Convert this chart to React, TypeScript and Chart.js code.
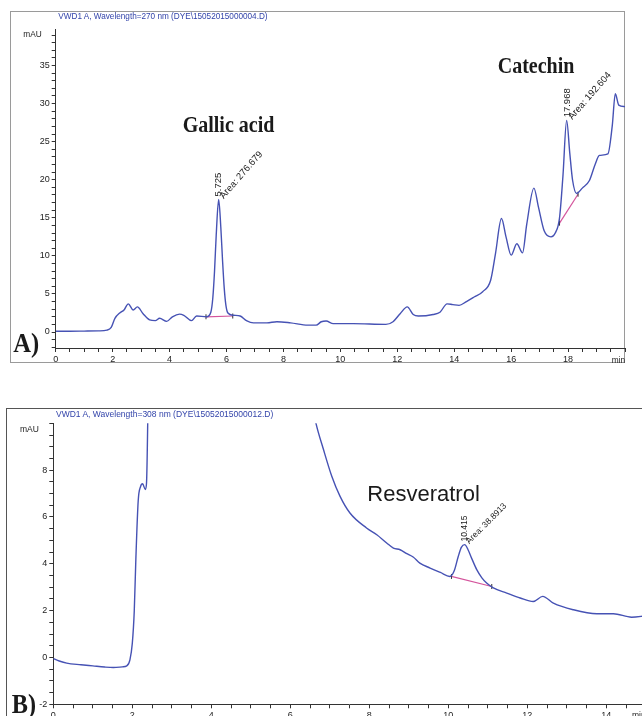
import React, { useEffect, useRef } from "react";
import { Chart, registerables } from "chart.js";
Chart.register(...registerables);

// ---------- Chromatogram A (270 nm) ----------
const timeA = [0, 0.5, 1.0, 1.5, 1.8, 1.95, 2.08, 2.25, 2.4, 2.55, 2.72, 2.87, 3.07, 3.3, 3.5, 3.65, 3.9, 4.1, 4.35, 4.5, 4.77, 4.95, 5.3, 5.45, 5.52, 5.58, 5.64, 5.725, 5.8, 5.86, 5.92, 5.98, 6.05, 6.24, 6.48, 6.7, 6.95, 7.42, 7.77, 8.25, 8.86, 9.15, 9.33, 9.5, 9.75, 10.45, 11.6, 11.85, 12.1, 12.35, 12.56, 12.74, 13.26, 13.5, 13.75, 13.95, 14.17, 14.43, 14.7, 15.0, 15.28, 15.45, 15.66, 15.82, 16.0, 16.2, 16.4, 16.55, 16.8, 16.96, 17.16, 17.4, 17.55, 17.7, 17.82, 17.95, 18.06, 18.16, 18.3, 18.5, 18.75, 18.95, 19.1, 19.4, 19.55, 19.66, 19.78, 20.0];
const absA = [0.1, 0.1, 0.12, 0.15, 0.25, 0.6, 1.8, 2.5, 2.9, 3.7, 2.9, 3.3, 2.4, 1.6, 1.5, 1.8, 1.4, 2.0, 2.35, 2.2, 1.5, 2.1, 2.0, 2.6, 4.5, 8.0, 12.8, 17.4, 13.8, 9.5, 5.8, 3.5, 2.5, 2.2, 2.1, 1.5, 1.2, 1.2, 1.35, 1.2, 0.9, 0.9, 1.35, 1.45, 1.1, 1.1, 1.0, 1.35, 2.4, 3.3, 2.3, 2.1, 2.3, 2.6, 3.7, 3.6, 3.5, 4.0, 4.6, 5.3, 6.8, 10.3, 14.9, 12.5, 10.1, 11.6, 10.4, 14.2, 18.9, 16.4, 13.3, 12.5, 13.0, 15.0, 20.5, 27.8, 23.5, 19.9, 18.2, 18.9, 19.9, 22.0, 23.2, 23.4, 27.0, 31.3, 29.8, 29.6];
const gallicBaseTimes = [5.28, 6.22];
const gallicBaseVals = [2.0, 2.1];
const catechinBaseTimes = [17.7, 18.35];
const catechinBaseVals = [14.3, 18.1];
const peakTimesA = [5.725, 17.968];
const peakApexA = [17.4, 27.8];
const peakAreasA = ["276.679", "192.604"];
const xRangeA = [0, 20];
const yRangeA = [-2.1, 39.8];

// ---------- Chromatogram B (308 nm) ----------
const timeB = [0, 0.15, 0.34, 0.7, 1.0, 1.3, 1.52, 1.75, 1.86, 1.94, 2.0, 2.05, 2.09, 2.15, 2.21, 2.26, 2.33, 2.36, 2.39, 2.43, 6.0, 6.35, 6.65, 6.84, 7.05, 7.26, 7.51, 7.93, 8.19, 8.44, 8.61, 8.78, 8.95, 9.11, 9.28, 9.54, 9.8, 10.04, 10.15, 10.25, 10.33, 10.415, 10.5, 10.6, 10.72, 10.85, 10.97, 11.14, 11.48, 11.82, 12.15, 12.39, 12.66, 13.16, 13.76, 14.18, 14.64, 15.0];
const absB = [-0.05, -0.15, -0.24, -0.31, -0.36, -0.41, -0.43, -0.40, -0.36, -0.1, 0.6, 2.0, 4.2, 6.7, 7.3, 7.42, 7.17, 7.45, 10.0, 16, 16, 12.5, 10.0, 8.88, 7.74, 6.88, 6.17, 5.53, 5.24, 4.89, 4.67, 4.6, 4.43, 4.29, 4.03, 3.82, 3.63, 3.46, 3.7, 4.3, 4.7, 4.82, 4.6, 4.2, 3.75, 3.4, 3.18, 2.97, 2.75, 2.54, 2.39, 2.61, 2.32, 2.04, 1.87, 1.87, 1.72, 1.78];
const resBaseTimes = [10.08, 11.1];
const resBaseVals = [3.46, 3.03];
const peakTimesB = [10.415];
const peakApexB = [4.82];
const peakAreasB = ["38.8913"];
const xRangeB = [0, 15];
const yRangeB = [-2, 10];

const LINE = "#4652b4";
const PINK = "#d4549c";
const SANS = '"Liberation Sans", Arial, sans-serif';
const SERIF = '"Liberation Serif", "Times New Roman", serif';

const pts = (xs: number[], ys: number[]) => xs.map((x, i) => ({ x, y: ys[i] }));
const near = (v: number, m: number) => Math.abs(v / m - Math.round(v / m)) < 1e-6;

const peakLabelPlugin = {
  id: "peakLabels",
  afterDatasetsDraw(chart: any, _args: any, opts: any) {
    const { ctx } = chart;
    const x = chart.scales.x;
    const y = chart.scales.y;
    opts.times.forEach((t: number, i: number) => {
      const px = x.getPixelForValue(t);
      const py = y.getPixelForValue(opts.apex[i]);
      ctx.save();
      ctx.fillStyle = "#222";
      ctx.font = `${opts.size}px ${SANS}`;
      ctx.textAlign = "left";
      ctx.textBaseline = "middle";
      ctx.translate(px, py - 3);
      ctx.rotate(-Math.PI / 2);
      ctx.fillText(t.toFixed(3), 0, 0);
      ctx.restore();
      ctx.save();
      ctx.fillStyle = "#222";
      ctx.font = `${opts.size}px ${SANS}`;
      ctx.textAlign = "left";
      ctx.textBaseline = "middle";
      ctx.translate(px + 3, py - 2);
      ctx.rotate(opts.angle);
      ctx.fillText("Area: " + opts.areas[i], 0, 0);
      ctx.restore();
    });
  },
};

function makeConfig(p: any): any {
  const baseSets = p.bases.map((b: any) => ({
    data: pts(b[0], b[1]),
    borderColor: PINK,
    borderWidth: 1.2,
    pointRadius: 2.5,
    pointStyle: "line",
    rotation: 90,
    pointBorderColor: "#333",
    pointBorderWidth: 1,
    fill: false,
  }));
  return {
    type: "line",
    data: {
      datasets: [
        {
          data: pts(p.xs, p.ys),
          borderColor: LINE,
          borderWidth: 1.4,
          pointRadius: 0,
          cubicInterpolationMode: "monotone",
          fill: false,
        },
        ...baseSets,
      ],
    },
    options: {
      responsive: false,
      animation: false,
      events: [],
      layout: { padding: { top: p.padTop, right: p.padRight, left: 0, bottom: 0 } },
      plugins: {
        legend: { display: false },
        tooltip: { enabled: false },
        peakLabels: { times: p.pt, apex: p.pa, areas: p.areas, size: p.lblSize, angle: p.angle },
      },
      scales: {
        x: {
          type: "linear",
          min: p.xr[0],
          max: p.xr[1],
          afterFit: (s: any) => { s.height = p.xH; },
          ticks: {
            stepSize: p.xMinor,
            includeBounds: false,
            autoSkip: false,
            maxRotation: 0,
            padding: 2,
            color: "#222",
            font: { family: SANS, size: 9 },
            callback: (v: number) => (near(v, p.xMajor) && v < p.xr[1] - 1e-6 ? String(v) : ""),
          },
          grid: { drawOnChartArea: false, drawTicks: true, tickLength: 4, tickColor: "#333", tickWidth: 1 },
          border: { display: true, color: "#333", width: 1 },
        },
        y: {
          type: "linear",
          min: p.yr[0],
          max: p.yr[1],
          afterFit: (s: any) => { s.width = p.yW; },
          ticks: {
            stepSize: p.yMinor,
            includeBounds: false,
            autoSkip: false,
            padding: 2,
            color: "#222",
            font: { family: SANS, size: 9 },
            callback: (v: number) => (near(v, p.yMajor) && v < p.yr[1] - 1e-6 ? String(v) : ""),
          },
          grid: { drawOnChartArea: false, drawTicks: true, tickLength: 4, tickColor: "#333", tickWidth: 1 },
          border: { display: true, color: "#333", width: 1 },
        },
      },
    },
    plugins: [peakLabelPlugin],
  };
}

function Label(props: { x: number; base: number; size: number; text: string; serif?: boolean; bold?: boolean; color?: string; sy?: number }) {
  const ratio = props.serif ? 0.8375 : 0.8465;
  const off = ratio * props.size;
  return (
    <div
      style={{
        position: "absolute",
        left: props.x,
        top: props.base - off,
        fontFamily: props.serif ? SERIF : SANS,
        fontWeight: props.bold ? 700 : 400,
        fontSize: props.size,
        lineHeight: 1,
        whiteSpace: "nowrap",
        color: props.color || "#1a1a1a",
        transform: `scaleY(${props.sy || 1})`,
        transformOrigin: `0 ${off}px`,
      }}
    >
      {props.text}
    </div>
  );
}

export default function App() {
  const refA = useRef<HTMLCanvasElement>(null);
  const refB = useRef<HTMLCanvasElement>(null);

  useEffect(() => {
    const a = new Chart(
      refA.current as HTMLCanvasElement,
      makeConfig({
        xs: timeA, ys: absA,
        bases: [[gallicBaseTimes, gallicBaseVals], [catechinBaseTimes, catechinBaseVals]],
        pt: peakTimesA, pa: peakApexA, areas: peakAreasA, lblSize: 9.5, angle: -0.85,
        xr: xRangeA, yr: yRangeA, xMinor: 0.5, xMajor: 2, yMinor: 1, yMajor: 5,
        padTop: 29, padRight: 17, xH: 24, yW: 55.7,
      })
    );
    const b = new Chart(
      refB.current as HTMLCanvasElement,
      makeConfig({
        xs: timeB, ys: absB,
        bases: [[resBaseTimes, resBaseVals]],
        pt: peakTimesB, pa: peakApexB, areas: peakAreasB, lblSize: 8.5, angle: -0.79,
        xr: xRangeB, yr: yRangeB, xMinor: 0.5, xMajor: 2, yMinor: 0.5, yMajor: 2,
        padTop: 28.3, padRight: 34.2, xH: 25.7, yW: 53.3,
      })
    );
    return () => { a.destroy(); b.destroy(); };
  }, []);

  return (
    <div style={{ position: "absolute", left: 0, top: 0, width: 642, height: 716, overflow: "hidden", background: "#fff" }}>
      <div style={{ position: "absolute", left: 10, top: 11, width: 615, height: 352, border: "1.5px solid #9a9a9a", boxSizing: "border-box" }} />
      <div style={{ position: "absolute", left: 6, top: 408, width: 700, height: 400, border: "1.5px solid #555", boxSizing: "border-box" }} />
      <canvas ref={refA} width={642} height={372} style={{ position: "absolute", left: 0, top: 0, width: 642, height: 372 }} />
      <canvas ref={refB} width={680} height={335} style={{ position: "absolute", left: 0, top: 395, width: 680, height: 335 }} />

      <Label x={58.3} base={20} size={8.2} sy={1.14} color="#3344aa" text="VWD1 A, Wavelength=270 nm (DYE\15052015000004.D)" />
      <Label x={23.3} base={37.5} size={8.3} sy={1.14} color="#222" text="mAU" />
      <Label x={611.7} base={363} size={8.3} color="#222" text="min" />
      <Label x={182.7} base={131.7} size={20} serif bold sy={1.13} text="Gallic acid" />
      <Label x={497.7} base={72.7} size={20} serif bold sy={1.13} text="Catechin" />
      <Label x={13.3} base={352.7} size={24.6} serif bold sy={1.14} text="A)" />

      <Label x={56} base={417.6} size={8.5} sy={1.1} color="#3344aa" text="VWD1 A, Wavelength=308 nm (DYE\15052015000012.D)" />
      <Label x={20} base={432} size={8.5} color="#222" text="mAU" />
      <Label x={632} base={718} size={8.5} color="#222" text="min" />
      <Label x={367.3} base={501.7} size={22} text="Resveratrol" />
      <Label x={11.7} base={713.5} size={24.3} serif bold sy={1.14} text="B)" />
    </div>
  );
}
